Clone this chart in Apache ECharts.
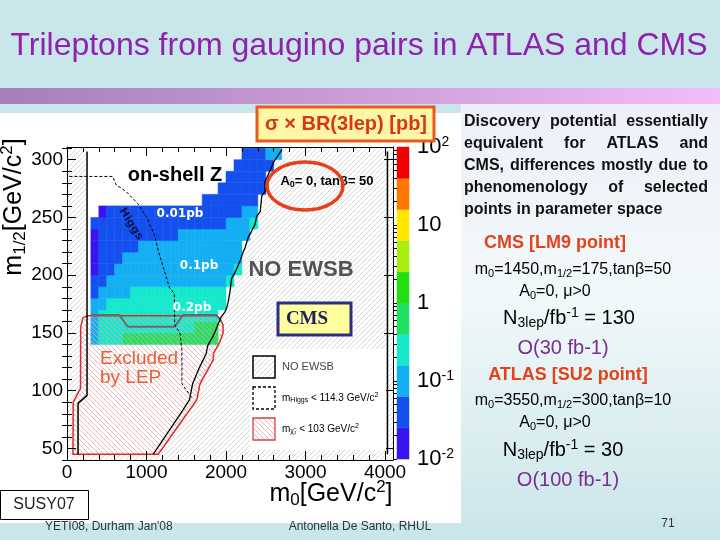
<!DOCTYPE html>
<html><head><meta charset="utf-8">
<script src="https://cdn.jsdelivr.net/npm/echarts@6/dist/echarts.min.js"></script>
<style>html,body{margin:0;padding:0;background:#c9e6ea}#c{width:720px;height:540px}</style>
</head><body><div id="c"></div>
<script>
// ---------------- data ----------------
const XMIN = 0, XMAX = 4100, YMIN = 40, YMAX = 311;
const m0First = 300;   // low edge of first m0 column (GeV)
const m0Bin = 100;     // m0 bin width
const m12Bin = 10;     // m1/2 bin height
const m12Rows = [140,150,160,170,180,190,200,210,220,230,240,250,260,270,280,290,300];
// sigma x BR(3lep) in pb, columns m0 = 300,400,...,2600
const n = null;
const xsecRows = [
 [0.1,0.25,0.25,0.25,0.6,0.6,0.6,0.6,0.6,0.6,0.6,0.6,0.6,0.6,0.6,0.6,n,n,n,n,n,n,n,n],
 [0.1,0.25,0.25,0.25,0.25,0.25,0.25,0.25,0.25,0.25,0.25,0.25,0.25,0.6,0.6,0.6,n,n,n,n,n,n,n,n],
 [0.1,0.25,0.25,0.25,0.25,0.25,0.25,0.25,0.25,0.25,0.25,0.25,0.25,0.25,0.25,0.25,n,n,n,n,n,n,n,n],
 [0.1,0.1,0.25,0.25,0.25,0.25,0.25,0.25,0.25,0.25,0.25,0.25,0.25,0.25,0.25,0.25,0.25,n,n,n,n,n,n,n],
 [0.04,0.1,0.1,0.1,0.1,0.25,0.25,0.25,0.25,0.25,0.25,0.25,0.25,0.25,0.25,0.25,0.25,n,n,n,n,n,n,n],
 [0.04,0.04,0.1,0.1,0.1,0.1,0.1,0.1,0.1,0.1,0.1,0.1,0.1,0.1,0.1,0.1,0.1,0.25,n,n,n,n,n,n],
 [0.015,0.04,0.04,0.1,0.1,0.1,0.1,0.1,0.1,0.1,0.1,0.1,0.1,0.1,0.1,0.1,0.1,0.1,0.25,n,n,n,n,n],
 [0.015,0.04,0.04,0.04,0.1,0.1,0.1,0.1,0.1,0.1,0.1,0.1,0.1,0.1,0.1,0.1,0.1,0.1,0.1,n,n,n,n,n],
 [0.015,0.04,0.04,0.04,0.04,0.04,0.1,0.1,0.1,0.1,0.1,0.1,0.1,0.1,0.1,0.1,0.1,0.1,0.1,n,n,n,n,n],
 [0.015,0.04,0.04,0.04,0.04,0.04,0.04,0.04,0.04,0.04,0.04,0.1,0.1,0.1,0.1,0.1,0.1,0.1,0.1,0.1,n,n,n,n],
 [0.04,0.04,0.04,0.04,0.04,0.04,0.04,0.04,0.04,0.04,0.04,0.04,0.04,0.04,0.04,0.04,0.04,0.1,0.1,0.1,0.25,n,n,n],
 [n,0.015,0.04,0.04,0.04,0.04,0.04,0.04,0.04,0.04,0.04,0.04,0.04,0.04,0.04,0.04,0.04,0.04,0.04,0.1,0.1,n,n,n],
 [n,n,n,n,n,n,n,n,n,n,n,n,n,n,0.04,0.04,0.04,0.04,0.04,0.04,0.04,n,n,n],
 [n,n,n,n,n,n,n,n,n,n,n,n,n,n,n,n,0.04,0.04,0.04,0.04,0.04,0.04,n,n],
 [n,n,n,n,n,n,n,n,n,n,n,n,n,n,n,n,n,0.04,0.04,0.04,0.04,0.04,n,n],
 [n,n,n,n,n,n,n,n,n,n,n,n,n,n,n,n,n,n,0.04,0.04,0.04,0.04,0.04,n],
 [n,n,n,n,n,n,n,n,n,n,n,n,n,n,n,n,n,n,n,0.04,0.04,0.04,0.1,0.1]
];
const colorBandEdges = [-2,-1.6,-1.2,-0.8,-0.4,0,0.4,0.8,1.2,1.6,2]; // log10(pb)
const colorBandColors = ['#3a14f0','#1450ee','#14aef2','#16e8cc','#20e062','#24de12','#a6ee10','#ffe600','#ff7600','#f00000'];
const xTickLabels = [0,1000,2000,3000,4000];
const yTickLabels = [50,100,150,200,250,300];
const zTickLabels = [-2,-1,0,1,2];
// contours (m0, m1/2)
const noEwsbLine = [[2705,309],[2600,298],[2550,290],[2490,281],[2490,272],[2450,269],[2430,255],[2385,251],[2365,244],[2320,238],[2280,233],[2240,224],[2215,220],[2175,212],[2110,202],[2070,197],[2050,186],[2025,176],[2005,171],[1985,168],[1940,164],[1880,154],[1835,147],[1770,139],[1750,132],[1665,120],[1580,106],[1540,92],[1455,83],[1085,45]];
const leftLine = [[252,307],[252,96],[139,89],[139,45]];
const rightLine = [[4030,307],[4030,45]];
const lepBoundary = [[75,45],[78,90],[170,102],[172,155],[200,163],[260,165],[1880,165],[1920,163],[1963,157],[1963,150],[1921,142],[1841,132],[1841,127],[1673,106],[1632,92],[1148,45]];
const charginoLine = [[300,165.5],[660,165.5],[765,155.4],[1354,155.4],[1459,165.5],[1879,165.5],[1942,159.7]];
const higgsLine = [[30,285.5],[575,285.5],[620,278],[680,275.5],[750,272],[890,262],[995,251],[1100,235],[1145,222],[1210,207],[1290,189],[1350,184],[1355,157],[1420,150],[1445,135],[1445,106],[1570,94]];

// ---------------- build ----------------
const F = "'Liberation Sans', Arial, sans-serif";
const chart = echarts.init(document.getElementById('c'), null, {renderer:'canvas', width:720, height:540});

function hatchCanvas(color, size, forward, bg) {
  const c = document.createElement('canvas'); c.width = c.height = size;
  const g = c.getContext('2d');
  if (bg) { g.fillStyle = bg; g.fillRect(0,0,size,size); }
  g.strokeStyle = color; g.lineWidth = 0.8; g.beginPath();
  if (forward) {
    g.moveTo(0,size); g.lineTo(size,0);
    g.moveTo(-size,size); g.lineTo(size,-size);
    g.moveTo(0,2*size); g.lineTo(2*size,0);
  } else {
    g.moveTo(0,0); g.lineTo(size,size);
    g.moveTo(-size,0); g.lineTo(size,2*size);
    g.moveTo(0,-size); g.lineTo(2*size,size);
  }
  g.stroke(); return c;
}
const grayHatch = {image: hatchCanvas('#cdcdcd', 5, true, '#ffffff'), repeat:'repeat'};
const redHatch = {image: hatchCanvas('#eaa4a4', 5, false, null), repeat:'repeat'};

const cells = [];
m12Rows.forEach((m12, r) => xsecRows[r].forEach((v, i) => {
  if (v != null) cells.push([m0First + i*m0Bin, m12, Math.log10(v), v]);
}));

function polySeries(pts, style, z) {
  return {type:'custom', xAxisIndex:0, yAxisIndex:0, z, silent:true, data:[pts[0]], encode:{x:0,y:1},
    renderItem:(p, api) => ({type:'polygon', shape:{points: pts.map(q => api.coord(q))}, style})};
}
function lineSeries(pts, color, width, type, z) {
  return {type:'line', xAxisIndex:0, yAxisIndex:0, data:pts, symbol:'none', silent:true, z,
    lineStyle:{color, width, type: type || 'solid'}};
}
const bgPoly = [[XMIN,YMIN],[XMAX,YMIN],[XMAX,YMAX],[XMIN,YMAX]];
const whitePoly = [[leftLine[0][0], YMAX]].concat(leftLine, noEwsbLine.slice().reverse(), [[noEwsbLine[0][0], YMAX]]);

const xMinor = []; for (let v = XMIN; v <= XMAX; v += 200) if (v % 1000) xMinor.push(v);
const yMinor = []; for (let v = YMIN; v <= YMAX; v += 10) if (v % 50) yMinor.push(v);
const zMinor = []; for (let d = -2; d < 2; d++) for (let k = 1; k <= 9; k++) zMinor.push(d + Math.log10(k));

function axisBase(min, max, pos, extra) {
  return Object.assign({type:'value', gridIndex:0, min, max, position:pos, z:10,
    splitLine:{show:false}, axisPointer:{show:false},
    axisLine:{show:true, onZero:false, lineStyle:{color:'#000', width:1}},
    axisTick:{show:false}, axisLabel:{show:false}}, extra);
}
const tick = (vals, len) => ({show:true, inside:true, length:len, customValues:vals, lineStyle:{color:'#000', width:1}});

function mkRich(fs, color, weight) {
  const w = weight || 'normal';
  return {
    n:{fontSize:fs, lineHeight:Math.round(fs*1.2), fontFamily:F, color, fontWeight:w},
    b:{fontSize:Math.round(fs*0.68), lineHeight:Math.round(fs*0.4), verticalAlign:'bottom', fontFamily:F, color, fontWeight:w},
    p:{fontSize:Math.round(fs*0.68), lineHeight:Math.round(fs*0.64), verticalAlign:'top', fontFamily:F, color, fontWeight:w}
  };
}
function rtext(x, y, text, rich, align, extra) {
  return Object.assign({type:'text', x, y, z:100, silent:true,
    style:{text, rich, align: align || 'center', verticalAlign:'middle'}}, extra || {});
}
function ptext(x, y, text, fs, color, weight, align, family, extra) {
  return Object.assign({type:'text', x, y, z:100, silent:true,
    style:{text, fill:color, fontSize:fs, fontWeight:weight||'normal', fontFamily:family||F,
      align:align||'center', verticalAlign:'middle'}}, extra || {});
}

const G = [];
// slide background
G.push({type:'rect', z:0, silent:true, shape:{x:0,y:0,width:720,height:540}, style:{fill:'#c9e6ea'}});
G.push({type:'rect', z:0, silent:true, shape:{x:0,y:88,width:720,height:16},
  style:{fill:{type:'linear',x:0,y:0,x2:1,y2:0,colorStops:[{offset:0,color:'#a67fb6'},{offset:1,color:'#f3bcfa'}]}}});
G.push({type:'rect', z:0, silent:true, shape:{x:461,y:104,width:259,height:418},
  style:{fill:{type:'linear',x:0,y:0,x2:0,y2:1,colorStops:[{offset:0,color:'#eef0f9'},{offset:0.45,color:'#f2f9fa'},{offset:1,color:'#cde7eb'}]}}});
G.push({type:'rect', z:0, silent:true, shape:{x:0,y:113,width:461,height:410}, style:{fill:'#ffffff'}});
// title
G.push(ptext(359, 46, 'Trileptons from gaugino pairs in ATLAS and CMS', 32, '#8e22ac'));
// sigma x BR box
G.push({type:'rect', z:100, silent:true, shape:{x:257,y:107,width:177,height:34}, style:{fill:'#fff7a4', stroke:'#ea5a1e', lineWidth:3}});
G.push(ptext(346, 124, 'σ × BR(3lep) [pb]', 20, '#d8361a', 'bold'));
// in-plot annotations
G.push(ptext(175, 175, 'on-shell Z', 20, '#000', 'bold'));
G.push(rtext(327, 181, '{n|A}{b|0}{n|= 0, tanβ= 50}', mkRich(13, '#000', 'bold'), 'center'));
G.push({type:'ellipse', z:100, silent:true, shape:{cx:305, cy:186, rx:38, ry:24}, style:{fill:'none', stroke:'#e6401c', lineWidth:3.5}});
G.push(ptext(180, 214, '0.01pb', 12, '#ffffff', 'bold', 'center', "'DejaVu Sans', sans-serif"));
G.push(ptext(199, 266, '0.1pb', 12, '#ffffff', 'bold', 'center', "'DejaVu Sans', sans-serif"));
G.push(ptext(192, 308, '0.2pb', 12, '#ffffff', 'bold', 'center', "'DejaVu Sans', sans-serif"));
G.push(ptext(131, 224, 'Higgs', 11, '#0c1250', 'bold', 'center', "'DejaVu Sans', sans-serif", {rotation:-1.01}));
G.push(ptext(301, 270, 'NO EWSB', 22, '#535353', 'bold'));
G.push({type:'rect', z:100, silent:true, shape:{x:278,y:303,width:73,height:32}, style:{fill:'#ffff9c', stroke:'#2c2e80', lineWidth:3}});
G.push(ptext(307, 319, 'CMS', 19, '#1e2262', 'bold', 'center', "'Liberation Serif', serif"));
G.push(ptext(100, 359, 'Excluded', 19, '#e6603c', 'normal', 'left'));
G.push(ptext(100, 378, 'by LEP', 19, '#e6603c', 'normal', 'left'));
// legend box
G.push({type:'rect', z:90, silent:true, shape:{x:250,y:349,width:136,height:101}, style:{fill:'#ffffff'}});
G.push({type:'rect', z:100, silent:true, shape:{x:253,y:356,width:22,height:22}, style:{fill:grayHatch, stroke:'#000', lineWidth:1.5}});
G.push({type:'rect', z:100, silent:true, shape:{x:253,y:387,width:22,height:22}, style:{fill:'#ffffff', stroke:'#000', lineWidth:1.3, lineDash:[3,2]}});
G.push({type:'rect', z:100, silent:true, shape:{x:253,y:418,width:22,height:22}, style:{fill:redHatch, stroke:'#d04444', lineWidth:1.3}});
G.push(ptext(282, 367, 'NO EWSB', 11, '#444', 'normal', 'left'));
G.push(rtext(282, 398, '{n|m}{b|Higgs}{n| < 114.3 GeV/c}{p|2}', mkRich(10, '#444'), 'left'));
G.push(rtext(282, 429, '{n|m}{b|χ̃₁}{n| < 103 GeV/c}{p|2}', mkRich(10, '#444'), 'left'));
// axis titles
G.push(rtext(331, 494, '{n|m}{b|0}{n|[GeV/c}{p|2}{n|]}', mkRich(25, '#000'), 'center'));
G.push(rtext(14, 207, '{n|m}{b|1/2}{n|[GeV/c}{p|2}{n|]}', mkRich(25, '#000'), 'center', {rotation:Math.PI/2}));
// SUSY07 box & footer
G.push({type:'rect', z:100, silent:true, shape:{x:0.5,y:490.5,width:88,height:29}, style:{fill:'#ffffff', stroke:'#000', lineWidth:1}});
G.push(ptext(44, 505, 'SUSY07', 16, '#222'));
G.push(ptext(45, 527, "YETI08, Durham Jan'08", 12, '#333', 'normal', 'left'));
G.push(ptext(360, 527, 'Antonella De Santo, RHUL', 12, '#333'));
G.push(ptext(668, 524, '71', 12, '#333'));

// right-hand text: justified paragraph
const descLines = ['Discovery potential essentially', 'equivalent for ATLAS and', 'CMS, differences mostly due to', 'phenomenology of selected', 'points in parameter space'];
(function(){
  const ctx = document.createElement('canvas').getContext('2d');
  ctx.font = "bold 16px 'Liberation Sans'";
  const L = 464, R = 708;
  descLines.forEach((line, li) => {
    const y = 122 + li*22;
    if (li === descLines.length - 1) { G.push(ptext(L, y, line, 16, '#111', 'bold', 'left')); return; }
    const words = line.split(' ');
    const ws = words.map(w => ctx.measureText(w).width);
    const gap = (R - L - ws.reduce((a,b)=>a+b,0)) / (words.length - 1);
    let x = L;
    words.forEach((w, k) => { G.push(ptext(x, y, w, 16, '#111', 'bold', 'left')); x += ws[k] + gap; });
  });
})();
const redTxt = '#e4421a', blueTxt = '#2e3192', purpTxt = '#7b2d90';
G.push(ptext(555, 243, 'CMS [LM9 point]', 18, redTxt, 'bold'));
G.push(rtext(573, 270, '{n|m}{b|0}{n|=1450,m}{b|1/2}{n|=175,tanβ=50}', mkRich(16, '#333'), 'center'));
G.push(rtext(555, 292, '{n|A}{b|0}{n|=0, μ>0}', mkRich(16, '#333'), 'center'));
G.push(rtext(569, 318, '{n|N}{b|3lep}{n|/fb}{p|-1}{n| = 130}', mkRich(20, blueTxt), 'center'));
G.push(ptext(563, 348, 'O(30 fb-1)', 20, purpTxt));
G.push(ptext(568, 375, 'ATLAS [SU2 point]', 18, redTxt, 'bold'));
G.push(rtext(573, 401, '{n|m}{b|0}{n|=3550,m}{b|1/2}{n|=300,tanβ=10}', mkRich(16, '#333'), 'center'));
G.push(rtext(555, 423, '{n|A}{b|0}{n|=0, μ>0}', mkRich(16, '#333'), 'center'));
G.push(rtext(563, 450, '{n|N}{b|3lep}{n|/fb}{p|-1}{n| = 30}', mkRich(20, blueTxt), 'center'));
G.push(ptext(568, 480, 'O(100 fb-1)', 20, purpTxt));

const zLabel = {'-2':'{b|10}{s|-2}', '-1':'{b|10}{s|-1}', '0':'{b|1}', '1':'{b|10}', '2':'{b|10}{s|2}'};

const option = {
  animation:false,
  grid:[
    {left:67, top:147, width:326, height:313},
    {left:397, top:147, width:12, height:312, show:true, borderColor:'#000', borderWidth:1, backgroundColor:'transparent'}
  ],
  xAxis:[
    axisBase(XMIN,XMAX,'bottom',{axisTick:tick(xTickLabels,9), axisLabel:{show:true, customValues:xTickLabels, formatter:v => String(v), fontSize:19, margin:3, color:'#000', fontFamily:F}}),
    axisBase(XMIN,XMAX,'top',{axisTick:tick(xTickLabels,9)}),
    axisBase(XMIN,XMAX,'bottom',{axisLine:{show:false}, axisTick:tick(xMinor,5)}),
    axisBase(XMIN,XMAX,'top',{axisLine:{show:false}, axisTick:tick(xMinor,5)}),
    {type:'value', gridIndex:1, min:0, max:1, show:false}
  ],
  yAxis:[
    axisBase(YMIN,YMAX,'left',{axisTick:tick(yTickLabels,9), axisLabel:{show:true, customValues:yTickLabels, formatter:v => String(v), fontSize:19, margin:4, color:'#000', fontFamily:F}}),
    axisBase(YMIN,YMAX,'right',{axisTick:tick(yTickLabels,9)}),
    axisBase(YMIN,YMAX,'left',{axisLine:{show:false}, axisTick:tick(yMinor,5)}),
    axisBase(YMIN,YMAX,'right',{axisLine:{show:false}, axisTick:tick(yMinor,5)}),
    {type:'value', gridIndex:1, min:-2, max:2, position:'right', z:10, splitLine:{show:false},
     axisLine:{show:false}, axisTick:tick(zMinor,4),
     axisLabel:{show:true, customValues:zTickLabels, margin:8, formatter:v => zLabel[String(Math.round(v))],
       rich:{b:{fontSize:22, lineHeight:24, fontFamily:F, color:'#000'}, s:{fontSize:14, lineHeight:14, verticalAlign:'top', fontFamily:F, color:'#000'}}}}
  ],
  visualMap:[{type:'piecewise', show:false, seriesIndex:2, dimension:2,
    pieces: colorBandColors.map((c,k) => ({gte:colorBandEdges[k], lt:colorBandEdges[k+1], color:c}))}],
  series:[
    polySeries(bgPoly, {fill:grayHatch}, 1),
    polySeries(whitePoly, {fill:'#ffffff'}, 1.5),
    {type:'custom', name:'xsec', xAxisIndex:0, yAxisIndex:0, z:2, silent:true, data:cells, encode:{x:0,y:1},
     renderItem:(p, api) => {
       const a = api.coord([api.value(0), api.value(1)]);
       const b = api.coord([api.value(0) + m0Bin, api.value(1) + m12Bin]);
       const c = api.visual('color');
       return {type:'rect', shape:{x:a[0], y:b[1], width:b[0]-a[0], height:a[1]-b[1]}, style:{fill:c, stroke:c, lineWidth:0.5}};
     }},
    polySeries(lepBoundary, {fill:redHatch, stroke:'#dd2a2a', lineWidth:1.5}, 3),
    lineSeries(charginoLine, '#6a6a6a', 2, 'solid', 4),
    lineSeries(higgsLine, '#000', 1, [3,2], 4),
    lineSeries(noEwsbLine, '#000', 1.3, 'solid', 4),
    lineSeries(leftLine, '#000', 1.5, 'solid', 4),
    lineSeries(rightLine, '#000', 1.5, 'solid', 4),
    {type:'custom', xAxisIndex:4, yAxisIndex:4, z:2, silent:true,
     data: colorBandColors.map((c,k) => [k, colorBandEdges[k], colorBandEdges[k+1]]), encode:{y:[1,2]},
     renderItem:(p, api) => {
       const a = api.coord([0, api.value(1)]);
       const b = api.coord([1, api.value(2)]);
       const c = colorBandColors[api.value(0)];
       return {type:'rect', shape:{x:a[0], y:b[1], width:b[0]-a[0], height:a[1]-b[1]}, style:{fill:c, stroke:c, lineWidth:0.5}};
     }}
  ],
  graphic:{elements:G}
};
chart.setOption(option);
</script></body></html>
